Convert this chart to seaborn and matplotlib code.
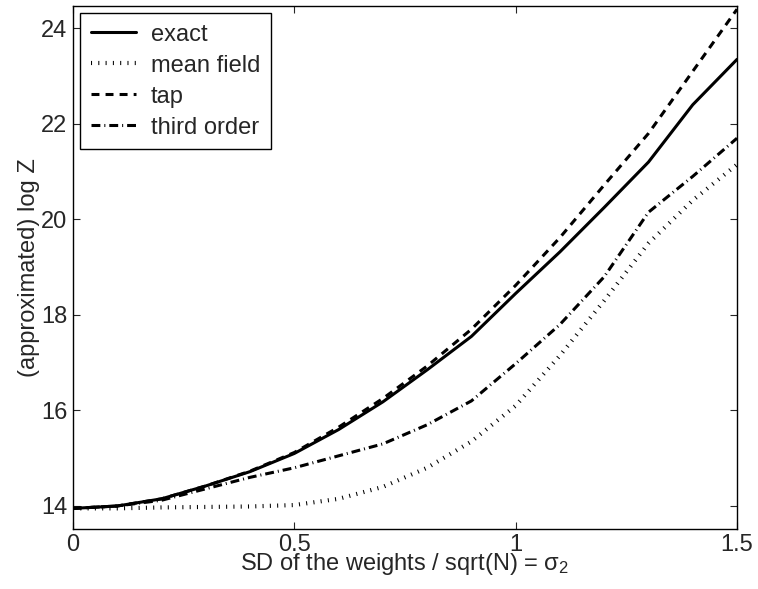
import numpy as np
import pandas as pd
import seaborn as sns
import matplotlib
matplotlib.use("Agg")
import matplotlib.pyplot as plt

# values
sd = [0.0, 0.1, 0.2, 0.3, 0.4, 0.5, 0.6, 0.7, 0.8, 0.9, 1.0, 1.1, 1.2, 1.3, 1.4, 1.5]
exact = [13.95, 14.0, 14.15, 14.42, 14.72, 15.1, 15.6, 16.18, 16.85, 17.55,
         18.45, 19.32, 20.25, 21.2, 22.4, 23.35]
mean_field = [13.95, 13.95, 13.97, 13.98, 13.99, 14.02, 14.15, 14.4, 14.8, 15.35,
              16.1, 17.15, 18.3, 19.5, 20.4, 21.15]
tap = [13.95, 14.0, 14.15, 14.42, 14.73, 15.12, 15.65, 16.25, 16.93, 17.7,
       18.62, 19.62, 20.72, 21.8, 23.1, 24.4]
third_order = [13.95, 14.0, 14.12, 14.36, 14.6, 14.8, 15.05, 15.3, 15.7, 16.2,
               16.98, 17.8, 18.8, 20.15, 20.9, 21.7]

x_ticks = [0, 0.5, 1, 1.5]
x_tick_labels = ["0", "0.5", "1", "1.5"]
y_ticks = [14, 16, 18, 20, 22, 24]

FS = 17

sns.set_style("ticks")
plt.rcParams["font.family"] = ["Liberation Sans", "DejaVu Sans"]
plt.rcParams["mathtext.default"] = "regular"
plt.rcParams["font.size"] = FS

fig = plt.figure(figsize=(7.58, 5.89), dpi=100)
ax = fig.add_axes([0.0963, 0.102, 0.876, 0.888])

series = [
    ("exact", exact, "-", 2.2),
    ("mean field", mean_field, (0, (0.25, 1.5)), 3.0),
    ("tap", tap, (0, (2.6, 2.0)), 2.2),
    ("third order", third_order, (0, (2.9, 1.3, 0.33, 1.3)), 2.2),
]
for name, vals, ls, lw in series:
    sns.lineplot(x=sd, y=vals, ax=ax, color="black", linestyle=ls,
                 linewidth=lw, label=name)

ax.set_xlim(0, 1.5)
ax.set_ylim(13.52, 24.47)
ax.set_xticks(x_ticks)
ax.set_xticklabels(x_tick_labels)
ax.set_yticks(y_ticks)
ax.tick_params(direction="in", length=5, width=0.8, top=True, right=True,
               labelsize=FS, pad=4)
for s in ax.spines.values():
    s.set_linewidth(1.0)
    s.set_color("black")

ax.set_xlabel("SD of the weights / sqrt(N) = σ$_2$", fontsize=FS, labelpad=-4)
ax.set_ylabel("(approximated) log Z", fontsize=FS, labelpad=1)

leg = ax.legend(loc="upper left", fontsize=FS, handlelength=1.9,
                borderaxespad=0.3, borderpad=0.45, fancybox=False, framealpha=1,
                edgecolor="black", labelspacing=0.38, handletextpad=0.65)
leg.get_frame().set_linewidth(1.0)

fig.savefig("out.png", dpi=100)
